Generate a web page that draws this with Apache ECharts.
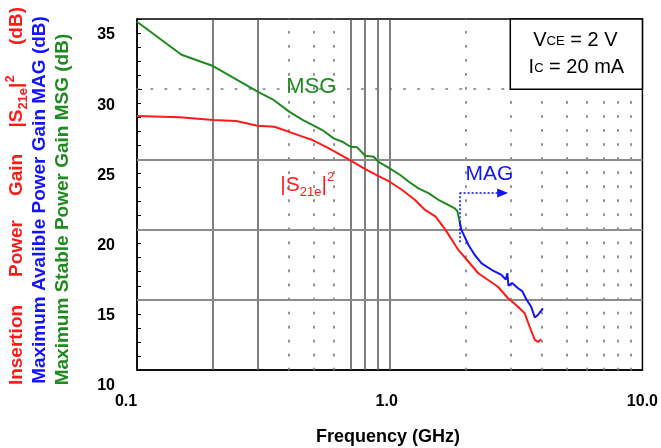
<!DOCTYPE html>
<html><head><meta charset="utf-8">
<script src="https://cdn.jsdelivr.net/npm/echarts@6/dist/echarts.min.js"></script>
<style>html,body{margin:0;padding:0;background:#fff}#c{width:661px;height:448px}</style>
</head><body><div id="c"></div>
<script>
// ---- data (frequency in GHz, gain in dB) ----
const msgFreq = [0.1, 0.15, 0.2, 0.3, 0.344, 0.4, 0.452, 0.5, 0.541, 0.6, 0.649, 0.7, 0.743, 0.8, 0.865, 0.9, 1.0, 1.1, 1.19, 1.3, 1.43, 1.56, 1.71, 1.81, 1.85, 1.89];
const msgGain = [34.8, 32.45, 31.65, 29.82, 29.28, 28.4, 27.81, 27.4, 27.09, 26.5, 26.26, 25.9, 25.86, 25.26, 25.19, 24.84, 24.36, 23.89, 23.41, 22.94, 22.58, 22.11, 21.75, 21.51, 21.35, 20.6];
const s21Freq = [0.1, 0.148, 0.2, 0.247, 0.3, 0.35, 0.452, 0.495, 0.575, 0.688, 0.8, 0.9, 1.0, 1.12, 1.26, 1.38, 1.52, 1.66, 1.87, 2.05, 2.24, 2.45, 2.68, 2.94, 3.22, 3.42, 3.58, 3.75, 3.86, 3.97];
const s21Gain = [28.09, 28.0, 27.81, 27.74, 27.4, 27.33, 26.62, 26.38, 25.79, 25.0, 24.3, 23.82, 23.41, 22.82, 22.11, 21.4, 20.92, 20.0, 18.55, 17.71, 16.89, 16.41, 15.93, 15.11, 14.51, 14.04, 13.08, 12.14, 12.0, 12.18];
const magFreq = [1.89, 1.92, 2.05, 2.17, 2.31, 2.54, 2.77, 2.88, 2.92, 2.95, 3.05, 3.22, 3.35, 3.48, 3.63, 3.75, 3.8, 3.86, 4.04];
const magGain = [20.6, 20.0, 18.9, 18.19, 17.6, 17.12, 16.77, 16.45, 16.9, 16.0, 16.2, 15.82, 15.6, 15.0, 14.5, 13.75, 13.7, 13.92, 14.39];
const xTickLabels = ['0.1', '1.0', '10.0'];
const yTickLabels = ['10', '15', '20', '25', '30', '35'];
const vSolidGrid = [0.2, 0.3, 0.7, 0.8, 0.9, 1.0];
const vDottedGrid = [0.4, 0.5, 0.6, 2, 3, 4, 5, 6, 7, 8, 9];
const hSolidGrid = [15, 20, 25];
const hDottedGrid = [30];

const RED = '#ff1a1a', BLUE = '#1414ff', GREEN = '#1f8a1f';
const FONT = 'Liberation Sans, Arial, sans-serif';
const zip = (a, b) => a.map((v, i) => [v, b[i]]);

const chart = echarts.init(document.getElementById('c'), null, {renderer: 'canvas'});
const noSym = {symbol: 'none', label: {show: false}, silent: true, animation: false};
const xLabStyle = {fontFamily: FONT, fontWeight: 'bold', fontSize: 16, color: '#000'};
const option = {
  animation: false,
  grid: {left: 137, right: 16, top: 19, bottom: 78, show: true, borderColor: '#000', borderWidth: 1.5, backgroundColor: '#fff'},
  xAxis: {
    type: 'log', logBase: 10, min: 0.1, max: 10,
    axisLine: {lineStyle: {color: '#000', width: 1.5}},
    axisTick: {show: false}, splitLine: {show: false},
    axisLabel: {
      margin: 24,
      formatter: v => {
        const i = Math.round(Math.log10(v)) + 1;
        return '{l' + i + '|' + xTickLabels[i] + '}';
      },
      rich: {
        l0: Object.assign({padding: [0, 22, 0, 0]}, xLabStyle),
        l1: Object.assign({padding: [0, 6, 0, 0]}, xLabStyle),
        l2: Object.assign({padding: [0, 0, 0, 0]}, xLabStyle)
      }
    }
  },
  yAxis: {
    type: 'value', min: 10, max: 35, interval: 5,
    axisLine: {show: true, lineStyle: {color: '#000', width: 1.5}},
    axisTick: {show: true, inside: true, length: 5, lineStyle: {color: '#000'}},
    minorTick: {show: true, splitNumber: 5, length: 4, lineStyle: {color: '#000'}},
    splitLine: {show: false},
    axisLabel: {
      fontFamily: FONT, fontWeight: 'bold', fontSize: 16, color: '#000', margin: 22,
      verticalAlign: 'top', lineHeight: 32,
      formatter: v => yTickLabels[Math.round((v - 10) / 5)]
    }
  },
  series: [
    {
      type: 'line', data: [], silent: true,
      markLine: Object.assign({}, noSym, {
        data: [
          ...vSolidGrid.map(v => ({xAxis: v, lineStyle: {color: '#555', width: 1.5, type: 'solid'}})),
          ...vDottedGrid.map(v => ({xAxis: v, lineStyle: {color: '#777', width: 1.6, type: [1.6, 12.44], cap: 'round'}})),
          ...hSolidGrid.map(v => ({yAxis: v, lineStyle: {color: '#8c8c8c', width: 2, type: 'solid'}})),
          ...hDottedGrid.map(v => ({yAxis: v, lineStyle: {color: '#777', width: 1.6, type: [1.6, 12.44], cap: 'round'}}))
        ]
      })
    },
    {name: 'MSG', type: 'line', data: zip(msgFreq, msgGain), showSymbol: false, z: 5, lineStyle: {color: GREEN, width: 2}},
    {name: 'S21e', type: 'line', data: zip(s21Freq, s21Gain), showSymbol: false, z: 5, lineStyle: {color: RED, width: 2}},
    {name: 'MAG', type: 'line', data: zip(magFreq, magGain), showSymbol: false, z: 5, lineStyle: {color: BLUE, width: 2},
      markLine: {
        silent: true, animation: false, label: {show: false}, symbol: 'none',
        lineStyle: {color: BLUE, width: 1.6, type: [2, 2]},
        data: [
          [{coord: [1.89, 19.1], symbol: 'none'}, {coord: [1.89, 22.6], symbol: 'none'}],
          [{coord: [1.89, 22.6], symbol: 'none'}, {coord: [2.8, 22.6], symbol: 'triangle', symbolSize: [9, 11], symbolRotate: -90}]
        ]
      }
    }
  ]
};
chart.setOption(option);

const P = (f, g) => chart.convertToPixel({gridIndex: 0}, [f, g]);
const tl = P(0.1, 35), br = P(10, 10);
const boxL = P(3, 30);
const msgPos = P(0.49, 30.15), magPos = P(2.48, 23.92), s21Pos = P(0.369, 23.18);
const rotText = (x, y, text, color) => ({
  type: 'text', x: x, y: y, rotation: Math.PI / 2, z: 100,
  style: {text: text, fill: color, font: 'bold 19px ' + FONT, align: 'center', verticalAlign: 'middle'}
});
const boxRich = {a: {fontSize: 20, fontFamily: FONT, fill: '#000'}, s: {fontSize: 13, fontFamily: FONT, fill: '#000', padding: [3, 0, 0, 0]}};
chart.setOption({
  graphic: [
    {type: 'rect', z: 100, shape: {x: boxL[0], y: tl[1], width: br[0] - boxL[0], height: boxL[1] - tl[1]},
      style: {fill: '#fff', stroke: '#000', lineWidth: 1.5}},
    {type: 'text', z: 101, x: (boxL[0] + br[0]) / 2 - 1, y: 40, style: {
      text: '{a|V}{s|CE}{a| = 2 V}', align: 'center', verticalAlign: 'middle', rich: boxRich}},
    {type: 'text', z: 101, x: (boxL[0] + br[0]) / 2, y: 67, style: {
      text: '{a|I}{s|C}{a| = 20 mA}', align: 'center', verticalAlign: 'middle', rich: boxRich}},
    {type: 'text', z: 101, x: msgPos[0], y: msgPos[1], style: {text: 'MSG', fill: GREEN, font: '22px ' + FONT, align: 'center', verticalAlign: 'middle'}},
    {type: 'text', z: 101, x: magPos[0], y: magPos[1], style: {text: 'MAG', fill: BLUE, font: '21px ' + FONT, align: 'center', verticalAlign: 'middle'}},
    {type: 'text', z: 101, x: s21Pos[0], y: s21Pos[1], style: {
      text: '{a||S}{sub|21e}{a||}{sup|2}', align: 'left', verticalAlign: 'middle',
      rich: {
        a: {fontSize: 21, fill: RED, fontFamily: FONT},
        sub: {fontSize: 13, fill: RED, fontFamily: FONT, padding: [14, 0, 0, 0]},
        sup: {fontSize: 13, fill: RED, fontFamily: FONT, padding: [0, 0, 16, 0]}
      }}},
    // y-axis titles
    rotText(17, 345, 'Insertion', RED),
    rotText(17, 248.5, 'Power', RED),
    rotText(17, 175, 'Gain', RED),
    {type: 'text', x: 17, y: 101.5, rotation: Math.PI / 2, z: 100, style: {
      text: '{a||S}{sub|21e}{a||}{sup|2}', align: 'center', verticalAlign: 'middle',
      rich: {
        a: {fontSize: 19, fontWeight: 'bold', fill: RED, fontFamily: FONT},
        sub: {fontSize: 13, fontWeight: 'bold', fill: RED, fontFamily: FONT, padding: [12, 0, 0, 0]},
        sup: {fontSize: 13, fontWeight: 'bold', fill: RED, fontFamily: FONT, padding: [0, 0, 14, 0]}
      }}},
    rotText(17, 26, '(dB)', RED),
    rotText(40, 200, 'Maximum Avalible Power Gain MAG (dB)', BLUE),
    rotText(63, 209.5, 'Maximum Stable Power Gain MSG (dB)', GREEN),
    {type: 'text', z: 101, x: 388, y: 437, style: {text: 'Frequency (GHz)', fill: '#000', font: 'bold 18px ' + FONT, align: 'center', verticalAlign: 'middle'}}
  ]
});
</script></body></html>
